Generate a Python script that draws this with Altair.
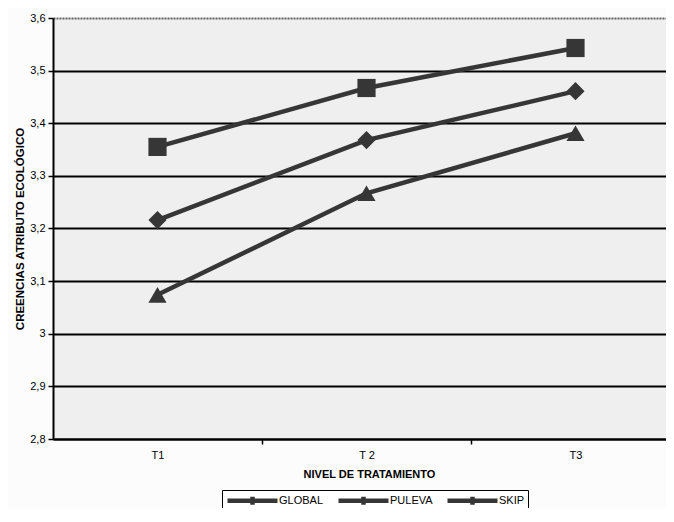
import altair as alt
import pandas as pd

# ---- data ----
levels = ["T1", "T 2", "T3"]
level_pos = [1, 2, 3]
series = ["GLOBAL", "PULEVA", "SKIP"]
global_vals = [3.216, 3.368, 3.461]
puleva_vals = [3.355, 3.467, 3.543]
skip_vals = [3.074, 3.267, 3.381]
y_ticks = [2.8, 2.9, 3.0, 3.1, 3.2, 3.3, 3.4, 3.5, 3.6]
x_ticks = [1, 1.5, 2, 2.5, 3]

rows = []
for name, vals in zip(series, [global_vals, puleva_vals, skip_vals]):
    for lab, pos, v in zip(levels, level_pos, vals):
        rows.append({"serie": name, "leyenda": name, "nivel": lab, "pos": pos, "valor": v})
df = pd.DataFrame(rows)

FONT = "Liberation Sans"
INK = "#363636"

label_expr = " : ".join(
    f"datum.value == {p} ? '{l}'" for p, l in zip(level_pos, levels)
) + " : ''"

x_enc = alt.X(
    "pos:Q",
    scale=alt.Scale(domain=[0.5, 3.433], nice=False, zero=False),
    axis=alt.Axis(
        values=x_ticks,
        labelExpr=label_expr,
        labelOverlap=False,
        grid=False,
        domainColor="black",
        domainWidth=2,
        tickColor="black",
        tickWidth=1.5,
        tickSize=5,
        tickOpacity=alt.condition("datum.value % 1 == 0", alt.value(0), alt.value(1)),
        labelPadding=5,
        labelFont=FONT,
        labelFontSize=11,
        labelColor="black",
        title="NIVEL DE TRATAMIENTO",
        titleFont=FONT,
        titleFontSize=11,
        titleFontWeight="bold",
        titleColor="black",
        titlePadding=8,
        titleX=316,
    ),
)

y_enc = alt.Y(
    "valor:Q",
    scale=alt.Scale(domain=[2.8, 3.6], nice=False, zero=False),
    axis=alt.Axis(
        values=y_ticks,
        labelExpr="replace(format(datum.value, '.2~f'), '.', ',')",
        grid=True,
        gridColor="black",
        gridWidth=1.8,
        gridDash=alt.condition("datum.value > 3.55", alt.value([2, 1]), alt.value([])),
        gridOpacity=alt.condition("datum.value > 3.55", alt.value(0.6), alt.value(1)),
        domainColor="black",
        domainWidth=2,
        tickColor="black",
        tickWidth=1.5,
        tickSize=5,
        labelPadding=3,
        labelFont=FONT,
        labelFontSize=11,
        labelColor="black",
        title="CREENCIAS ATRIBUTO ECOLÓGICO",
        titleFont=FONT,
        titleFontSize=11.5,
        titleFontWeight="bold",
        titleColor="black",
        titlePadding=4,
    ),
)

lines = alt.Chart(df).mark_line(strokeWidth=4.5).encode(
    x=x_enc,
    y=y_enc,
    color=alt.Color(
        "leyenda:N",
        scale=alt.Scale(domain=series, range=[INK, INK, INK]),
        legend=alt.Legend(
            orient="none",
            legendX=169,
            legendY=472,
            direction="horizontal",
            title=None,
            symbolType="M-5,0H5M0,-0.8V0.8",
            symbolSize=100,
            symbolOffset=20,
            symbolStrokeWidth=4.5,
            labelFont=FONT,
            labelFontSize=11,
            labelColor="black",
            labelOffset=19,
            columnPadding=5,
            strokeColor="black",
            padding=3,
            fillColor="white",
        ),
    ),
    detail="serie:N",
)

points = alt.Chart(df).mark_point(filled=True, opacity=1, color=INK, size=330).encode(
    x=x_enc,
    y=y_enc,
    shape=alt.Shape(
        "serie:N",
        scale=alt.Scale(domain=series, range=["diamond", "square", "triangle-up"]),
        legend=None,
    ),
)

chart = (
    alt.layer(lines, points)
    .resolve_legend(color="independent", shape="independent")
    .properties(
        width=613,
        height=421,
        autosize=alt.AutoSizeParams(type="none"),
        padding={"left": 45, "top": 10, "right": 0, "bottom": 69},
        background="#fcfcfc",
    )
    .configure_view(fill="#efefef", strokeWidth=0)
)

chart.save("out.html", embed_options={"renderer": "svg", "actions": False})
